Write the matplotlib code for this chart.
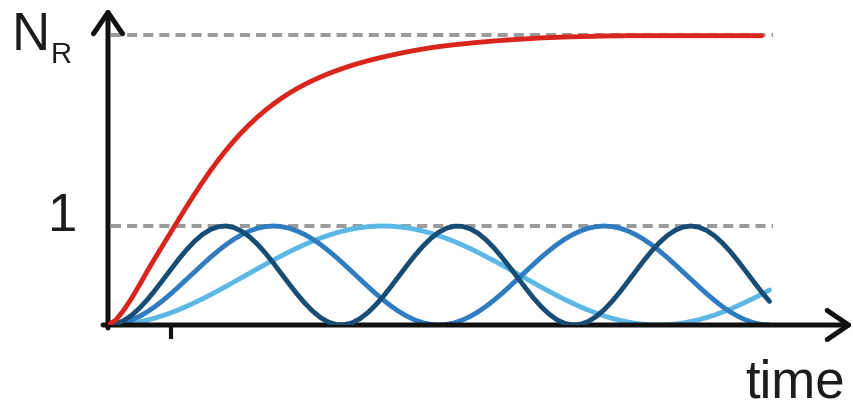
import numpy as np
import matplotlib.pyplot as plt

# sample times: one sample every eighth of a time unit, tick mark at t = 1
t = np.arange(85) * 0.125

# incoherent build-up of the population, levelling off just under the top line
n_red = [0.000, 0.050, 0.150, 0.270, 0.405, 0.545, 0.680, 0.810, 0.940, 1.070,
         1.198, 1.323, 1.443, 1.558, 1.666, 1.767, 1.861, 1.948, 2.028, 2.102,
         2.170, 2.232, 2.289, 2.341, 2.388, 2.431, 2.470, 2.506, 2.539, 2.569,
         2.597, 2.623, 2.647, 2.669, 2.689, 2.708, 2.726, 2.743, 2.759, 2.774,
         2.788, 2.801, 2.812, 2.822, 2.831, 2.839, 2.847, 2.855, 2.862, 2.869,
         2.875, 2.880, 2.885, 2.890, 2.895, 2.900, 2.903, 2.906, 2.909, 2.911,
         2.913, 2.915, 2.917, 2.919, 2.920, 2.921, 2.922, 2.922, 2.922, 2.922,
         2.922, 2.922, 2.922, 2.922, 2.922, 2.922, 2.922, 2.922, 2.922, 2.922,
         2.922, 2.922, 2.922, 2.922]

# coherent oscillations: fast (dark), medium, slow (light)
n_dark = [0.000, 0.011, 0.044, 0.098, 0.170, 0.256, 0.354, 0.458, 0.563, 0.667,
          0.762, 0.846, 0.915, 0.964, 0.993, 1.000, 0.984, 0.946, 0.889, 0.814,
          0.725, 0.626, 0.520, 0.415, 0.313, 0.220, 0.139, 0.074, 0.029, 0.004,
          0.002, 0.022, 0.064, 0.125, 0.203, 0.294, 0.395, 0.500, 0.605, 0.706,
          0.797, 0.875, 0.937, 0.978, 0.998, 0.996, 0.971, 0.926, 0.861, 0.780,
          0.686, 0.585, 0.481, 0.376, 0.275, 0.186, 0.111, 0.053, 0.016, 0.000,
          0.007, 0.036, 0.086, 0.154, 0.238, 0.333, 0.437, 0.542, 0.646, 0.744,
          0.830, 0.902, 0.956, 0.989, 1.000, 0.989, 0.956, 0.902, 0.830, 0.744,
          0.646, 0.542, 0.437, 0.333, 0.238]
n_mid = [0.000, 0.006, 0.022, 0.050, 0.087, 0.133, 0.188, 0.250, 0.317, 0.389,
         0.463, 0.537, 0.611, 0.683, 0.750, 0.812, 0.867, 0.913, 0.950, 0.978,
         0.994, 1.000, 0.994, 0.978, 0.950, 0.913, 0.867, 0.812, 0.750, 0.683,
         0.611, 0.537, 0.463, 0.389, 0.317, 0.250, 0.188, 0.133, 0.087, 0.050,
         0.022, 0.006, 0.000, 0.006, 0.022, 0.050, 0.087, 0.133, 0.188, 0.250,
         0.317, 0.389, 0.463, 0.537, 0.611, 0.683, 0.750, 0.812, 0.867, 0.913,
         0.950, 0.978, 0.994, 1.000, 0.994, 0.978, 0.950, 0.913, 0.867, 0.812,
         0.750, 0.683, 0.611, 0.537, 0.463, 0.389, 0.317, 0.250, 0.188, 0.133,
         0.087, 0.050, 0.022, 0.006, 0.000]
n_light = [0.000, 0.002, 0.008, 0.018, 0.032, 0.050, 0.071, 0.096, 0.124, 0.155,
           0.189, 0.226, 0.264, 0.305, 0.347, 0.390, 0.435, 0.479, 0.524, 0.569,
           0.613, 0.656, 0.698, 0.739, 0.777, 0.814, 0.847, 0.878, 0.906, 0.931,
           0.952, 0.970, 0.983, 0.993, 0.998, 1.000, 0.998, 0.991, 0.981, 0.967,
           0.949, 0.927, 0.902, 0.874, 0.843, 0.808, 0.772, 0.732, 0.691, 0.650,
           0.606, 0.562, 0.517, 0.472, 0.428, 0.383, 0.340, 0.298, 0.258, 0.220,
           0.183, 0.150, 0.119, 0.092, 0.067, 0.047, 0.030, 0.016, 0.007, 0.001,
           0.000, 0.003, 0.009, 0.020, 0.035, 0.053, 0.075, 0.100, 0.129, 0.160,
           0.195, 0.232, 0.270, 0.311, 0.354]

levels = [1, 2.93]
level_labels = ['1', '']

W, H = 854, 409
fig = plt.figure(figsize=(W / 100, H / 100), dpi=100)
plt.rcParams['font.family'] = ['Liberation Sans', 'DejaVu Sans']

x0, y0 = 108, 325          # origin in pixels
x_tip, y_tip = 853, 8      # arrow tips
px_x, px_y = 63, 99        # pixels per unit
ax = fig.add_axes([x0 / W, (H - y0) / H, (x_tip - x0) / W, (y0 - y_tip) / H])
ax.set_xlim(0, (x_tip - x0) / px_x)
ax.set_ylim(0, (y0 - y_tip) / px_y)
ax.axis('off')

# dashed reference levels
for lv in levels:
    ax.plot([0.05, t[-1] + 0.05], [lv, lv], color='#9b9b9b', lw=2.9,
            dashes=(2.5, 1.5), solid_capstyle='butt', zorder=1)

style = dict(lw=3.5, solid_capstyle='round', solid_joinstyle='round')
ax.plot(t, n_light, color='#5db7e4', zorder=2, **style)
ax.plot(t, n_mid, color='#2f7cc0', zorder=3, **style)
ax.plot(t, n_dark, color='#174c74', zorder=4, **style)
ax.plot(t[:len(n_red)], n_red, color='#d8261d', zorder=5, **style)

# axes drawn as arrows
arrow = dict(arrowstyle='->,head_length=1.1,head_width=0.75', lw=3.6,
             color='#111111', shrinkA=0, shrinkB=0, mutation_scale=14)
ax.annotate('', xy=(1, 0), xytext=(-5 / (x_tip - x0), 0),
            xycoords='axes fraction', arrowprops=arrow, annotation_clip=False)
ax.annotate('', xy=(0, 1), xytext=(0, -3 / (y0 - y_tip)),
            xycoords='axes fraction', arrowprops=arrow, annotation_clip=False)

# single tick at t = 1
ax.plot([1, 1], [0, -14 / px_y], color='#111111', lw=3.0, clip_on=False,
        solid_capstyle='butt')

txt = dict(color='#1c1c1c', fontsize=38)
for lv, lab in zip(levels, level_labels):
    if lab:
        fig.text(63 / W, (H - (y0 - lv * px_y) + 9) / H, lab, ha='center',
                 va='center', **txt)
fig.text(12 / W, (H - 50) / H, 'N', ha='left', va='baseline', **txt)
fig.text(51 / W, (H - 63) / H, 'R', ha='left', va='baseline', color='#1c1c1c',
         fontsize=21)
fig.text(845 / W, (H - 397) / H, 'time', ha='right', va='baseline', **txt)

fig.savefig('out.png', dpi=100)
